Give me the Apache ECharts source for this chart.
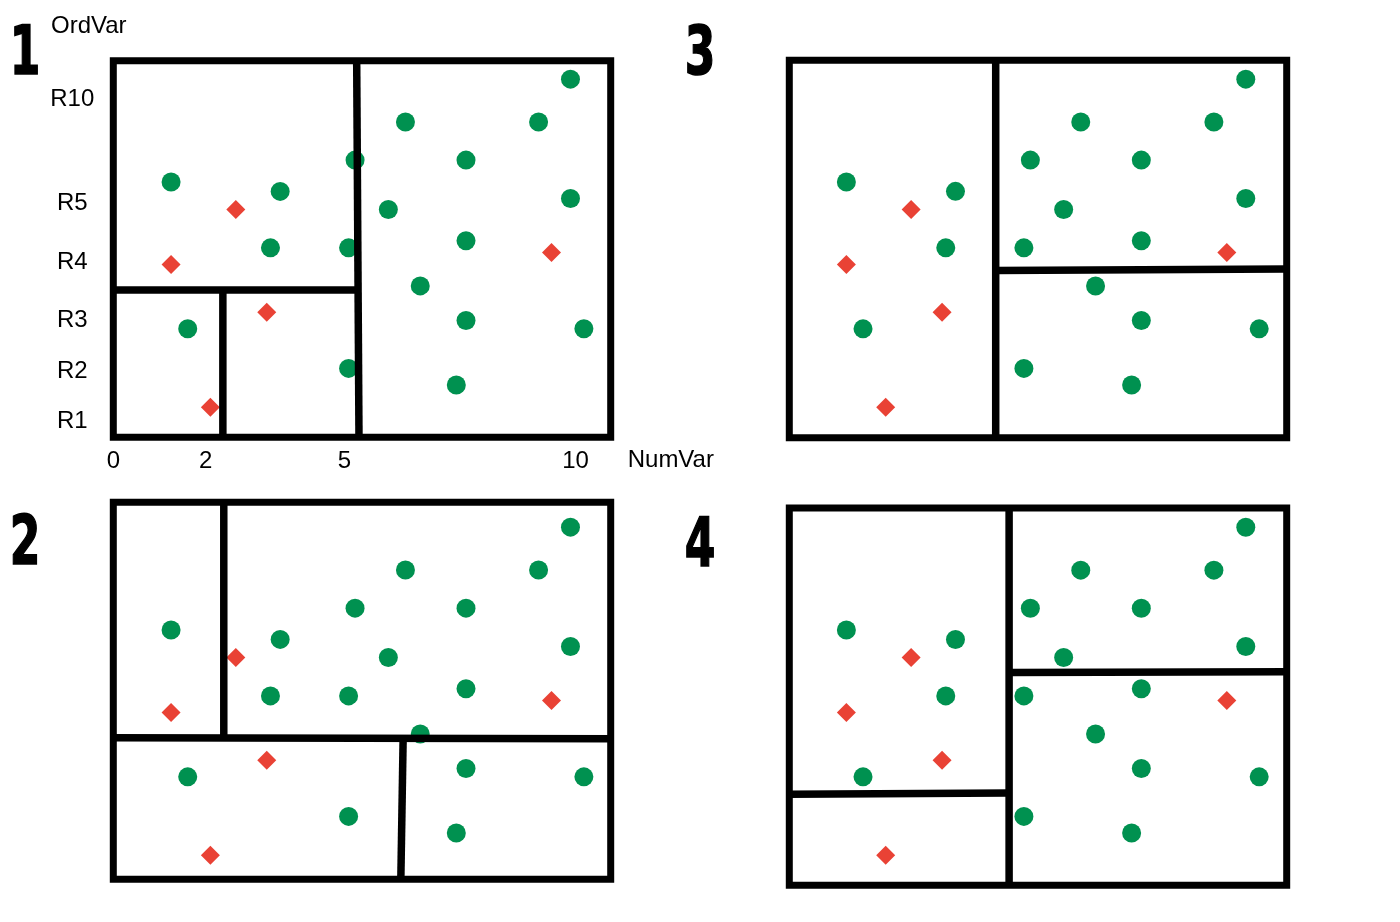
<!DOCTYPE html>
<html>
<head>
<meta charset="utf-8">
<script src="https://cdn.jsdelivr.net/npm/echarts@6/dist/echarts.min.js"></script>
<style>
html,body{margin:0;padding:0;background:#fff;}
#chart{width:1400px;height:922px;}
</style>
</head>
<body>
<div id="chart"></div>
<script>
// ---- data (NumVar on x, OrdVar position on y) ----
const greenX = [9.89, 6.32, 9.20, 5.23, 7.63, 1.25, 3.61, 9.89, 5.95, 3.40, 5.09, 7.63, 6.64, 1.61, 7.63, 10.18, 5.09, 7.42];
const greenY = [95.1, 83.7, 83.7, 73.6, 73.6, 67.8, 65.3, 63.4, 60.5, 50.3, 50.3, 52.2, 40.2, 28.8, 31.0, 28.8, 18.3, 13.9];
const redX = [2.65, 1.25, 9.48, 3.32, 2.10];
const redY = [60.5, 45.9, 49.1, 33.2, 8.0];

const xTickValues = [0, 2, 5, 10];
const yTickValues = [4.1, 17.4, 31.0, 46.4, 62.1, 89.6];
const yTickLabels = ['R1', 'R2', 'R3', 'R4', 'R5', 'R10'];
const panelLabels = ['1', '2', '3', '4'];

// partition segments for each panel: [[x1,y1],[x2,y2]]
const splits1 = [[[5.265, 100], [5.315, 0]], [[0, 39.1], [5.28, 39.1]], [[2.37, 39.1], [2.37, 0]]];
const splits2 = [[[2.39, 101.7], [2.39, 39.2]], [[0, 39.2], [10.76, 38.9]], [[6.27, 39.05], [6.22, 1.6]]];
const splits3 = [[[4.48, 100.1], [4.48, -0.1]], [[4.48, 44.3], [10.775, 44.7]]];
const splits4 = [[[4.77, 100.2], [4.77, 0]], [[4.77, 56.5], [10.775, 56.7]], [[0.015, 24.2], [4.77, 24.5]]];
const splits = [splits1, splits2, splits3, splits4];

// ---- layout ----
const panels = [
  {left: 113.3, top: 60.7, width: 497.4, height: 376.6, xMin: 0, xMax: 10.76, yMin: 0, yMax: 100, lx: 25, ly: 56},
  {left: 113.3, top: 502.3, width: 497.4, height: 377, xMin: 0, xMax: 10.76, yMin: 1.6, yMax: 101.7, lx: 25, ly: 546},
  {left: 789.3, top: 60.3, width: 497.4, height: 377.4, xMin: 0.015, xMax: 10.775, yMin: -0.1, yMax: 100.1, lx: 700, ly: 56},
  {left: 789.3, top: 508, width: 497.4, height: 377.3, xMin: 0.015, xMax: 10.775, yMin: 0, yMax: 100.2, lx: 700, ly: 548}
];

const FONT = "'Liberation Sans', Arial, Helvetica, sans-serif";
const GREEN = '#009150';
const RED = '#e94235';
const FS = 24;

const greenData = greenX.map((x, i) => [x, greenY[i]]);
const redData = redX.map((x, i) => [x, redY[i]]);

const grids = [], xAxes = [], yAxes = [], series = [], graphics = [];
panels.forEach((p, i) => {
  grids.push({
    left: p.left, top: p.top, width: p.width, height: p.height,
    show: true, borderColor: '#000', borderWidth: 7, backgroundColor: 'transparent',
    containLabel: false, outerBoundsMode: 'none'
  });
  const first = i === 0;
  xAxes.push({
    type: 'value', gridIndex: i, min: p.xMin, max: p.xMax, show: first,
    name: first ? 'NumVar' : '', nameLocation: 'end', nameGap: 17,
    nameTextStyle: {color: '#000', fontSize: FS, fontFamily: FONT, verticalAlign: 'top', lineHeight: 46},
    axisLine: {show: false}, axisTick: {show: false}, splitLine: {show: false},
    axisLabel: {
      show: first, customValues: xTickValues, showMinLabel: true, showMaxLabel: true,
      color: '#000', fontSize: FS, fontFamily: FONT, margin: 12,
      formatter: v => String(v)
    }
  });
  yAxes.push({
    type: 'value', gridIndex: i, min: p.yMin, max: p.yMax, show: first,
    name: first ? 'OrdVar' : '', nameLocation: 'end', nameGap: 22,
    nameTextStyle: {color: '#000', fontSize: FS, fontFamily: FONT, align: 'center', padding: [0, 49, 0, 0]},
    axisLine: {show: false}, axisTick: {show: false}, splitLine: {show: false},
    axisLabel: {
      show: first, customValues: yTickValues, showMinLabel: true, showMaxLabel: true,
      color: '#000', fontSize: FS, fontFamily: FONT, margin: 41, align: 'center',
      formatter: v => {
        const k = yTickValues.indexOf(v);
        return k >= 0 ? yTickLabels[k] : '';
      }
    }
  });
  series.push({
    type: 'scatter', xAxisIndex: i, yAxisIndex: i, data: greenData,
    symbol: 'circle', symbolSize: 19, itemStyle: {color: GREEN, opacity: 1}, z: 2, silent: true
  });
  series.push({
    type: 'scatter', xAxisIndex: i, yAxisIndex: i, data: redData,
    symbol: 'diamond', symbolSize: 19, itemStyle: {color: RED, opacity: 1}, z: 2, silent: true
  });
  splits[i].forEach(seg => {
    series.push({
      type: 'line', xAxisIndex: i, yAxisIndex: i, data: seg, symbol: 'none',
      lineStyle: {color: '#000', width: 7.5, cap: 'butt'}, z: 3, silent: true, clip: false
    });
  });
  graphics.push({
    type: 'text', x: p.lx, y: p.ly, scaleX: 0.72, scaleY: 1,
    style: {
      text: panelLabels[i], fill: '#000', textAlign: 'center', textVerticalAlign: 'middle',
      stroke: '#000', lineWidth: 1.5,
      font: "bold 68px 'Liberation Sans Narrow', 'DejaVu Sans Condensed', 'Liberation Sans', sans-serif"
    }
  });
});

const chart = echarts.init(document.getElementById('chart'), null, {renderer: 'canvas'});
chart.setOption({
  backgroundColor: '#fff',
  animation: false,
  grid: grids,
  xAxis: xAxes,
  yAxis: yAxes,
  series: series,
  graphic: graphics
});
</script>
</body>
</html>
